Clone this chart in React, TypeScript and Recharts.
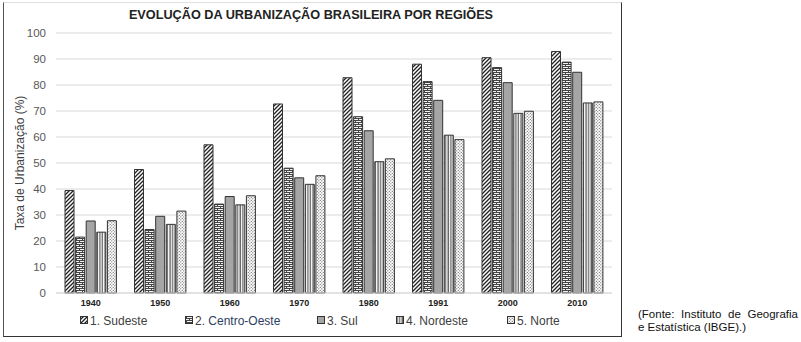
import { BarChart, Bar, XAxis, YAxis, CartesianGrid } from 'recharts'

const years = ['1940', '1950', '1960', '1970', '1980', '1991', '2000', '2010']
const sudeste = [39.4, 47.5, 57.0, 72.7, 82.8, 88.0, 90.5, 92.9]
const centroOeste = [21.5, 24.4, 34.2, 48.0, 67.8, 81.3, 86.7, 88.8]
const sul = [27.7, 29.5, 37.1, 44.3, 62.4, 74.1, 80.9, 84.9]
const nordeste = [23.4, 26.4, 33.9, 41.8, 50.5, 60.7, 69.1, 73.1]
const norte = [27.8, 31.5, 37.4, 45.1, 51.6, 59.0, 69.9, 73.5]
const yTicks = [0, 10, 20, 30, 40, 50, 60, 70, 80, 90, 100]

const series = [
  { key: 'sudeste', label: '1. Sudeste', fill: 'url(#pSudeste)' },
  { key: 'centroOeste', label: '2. Centro-Oeste', fill: 'url(#pCentro)' },
  { key: 'sul', label: '3. Sul', fill: '#a5a5a5' },
  { key: 'nordeste', label: '4. Nordeste', fill: 'url(#pNordeste)' },
  { key: 'norte', label: '5. Norte', fill: 'url(#pNorte)' },
]

const data = years.map((year, i) => ({
  year,
  sudeste: sudeste[i],
  centroOeste: centroOeste[i],
  sul: sul[i],
  nordeste: nordeste[i],
  norte: norte[i],
}))

// legend icon x positions
const legendX = [80, 185, 317, 396, 507]

const font = 'Arial, "Liberation Sans", Helvetica, sans-serif'

function Patterns() {
  return (
    <defs>
      <pattern id="pSudeste" width="4" height="4" patternUnits="userSpaceOnUse">
        <rect width="4" height="4" fill="#fff" />
        <path d="M-1,1 l2,-2 M0,4 l4,-4 M3,5 l2,-2" stroke="#222" strokeWidth="1.3" />
      </pattern>
      <pattern id="pCentro" width="6" height="4" patternUnits="userSpaceOnUse">
        <rect width="6" height="4" fill="#f2f2f2" />
        <path d="M0,0.5 H6 M0,2.5 H6 M1.5,0.5 V2.5 M4.5,2.5 V4.5" stroke="#444" strokeWidth="1" />
      </pattern>
      <pattern id="pNordeste" width="2.6" height="4" patternUnits="userSpaceOnUse">
        <rect width="2.6" height="4" fill="#fff" />
        <path d="M1,0 V4" stroke="#333" strokeWidth="1" />
      </pattern>
      <pattern id="pNorte" width="3" height="3" patternUnits="userSpaceOnUse">
        <rect width="3" height="3" fill="#fff" />
        <circle cx="0.8" cy="0.8" r="0.65" fill="#666" />
        <circle cx="2.3" cy="2.3" r="0.65" fill="#666" />
      </pattern>
    </defs>
  )
}

export default function App() {
  return (
    <div style={{ position: 'absolute', left: 0, top: 0, width: 801, height: 342, background: '#fff', fontFamily: font }}>
      <div
        style={{
          position: 'absolute', left: 3, top: 2, width: 617, height: 333,
          borderTop: '1px solid #e0e0e0', borderLeft: '1px solid #555',
          borderRight: '1px solid #333', borderBottom: '1px solid #333',
        }}
      />
      <div style={{ position: 'absolute', left: 0, width: 622, top: 8, textAlign: 'center', fontSize: 12.7, fontWeight: 'bold', color: '#222' }}>
        EVOLUÇÃO DA URBANIZAÇÃO BRASILEIRA POR REGIÕES
      </div>
      <div style={{ position: 'absolute', left: 0, top: 0 }}>
        <BarChart
          width={801}
          height={342}
          data={data}
          margin={{ top: 33, right: 189, bottom: 19, left: 0 }}
          barSize={9}
          barGap={1.6}
        >
          <Patterns />
          <CartesianGrid vertical={false} stroke="#d9d9d9" />
          <XAxis
            dataKey="year"
            height={30}
            axisLine={{ stroke: '#d9d9d9' }}
            tickLine={false}
            tickMargin={1}
            tick={{ fontSize: 9, fontWeight: 'bold', fill: '#222', fontFamily: font }}
          />
          <YAxis
            width={56}
            domain={[0, 100]}
            ticks={yTicks}
            axisLine={false}
            tickLine={false}
            tickMargin={4}
            tick={{ fontSize: 11.5, fill: '#595959', fontFamily: font }}
            label={{
              value: 'Taxa de Urbanização (%)',
              angle: -90,
              position: 'insideLeft',
              offset: 20,
              style: { textAnchor: 'middle', fontSize: 12, fill: '#404040', fontFamily: font },
            }}
          />
          {series.map((s) => (
            <Bar key={s.key} dataKey={s.key} name={s.label} fill={s.fill} stroke="#333" strokeWidth={1} isAnimationActive={false} />
          ))}
        </BarChart>
      </div>
      {series.map((s, i) => (
        <div
          key={s.key}
          style={{ position: 'absolute', left: legendX[i], top: 313, height: 15, display: 'flex', alignItems: 'center', fontSize: 12, color: '#404040', whiteSpace: 'nowrap' }}
        >
          <svg width={9} height={9} style={{ marginRight: 1 }}>
            <rect x={0.5} y={0.5} width={7} height={7} fill={s.fill} stroke="#333" strokeWidth={1} />
          </svg>
          {i === 1 ? (
            <span>2. <span style={{ color: '#2e3d63' }}>Centro-Oeste</span></span>
          ) : (
            <span>{s.label}</span>
          )}
        </div>
      ))}
      <div style={{ position: 'absolute', left: 638, top: 308, width: 160, fontSize: 11.5, lineHeight: '13px', color: '#111' }}>
        <div style={{ textAlign: 'justify', textAlignLast: 'justify' }}>(Fonte: Instituto de Geografia</div>
        <div>e Estatística (IBGE).)</div>
      </div>
    </div>
  )
}
